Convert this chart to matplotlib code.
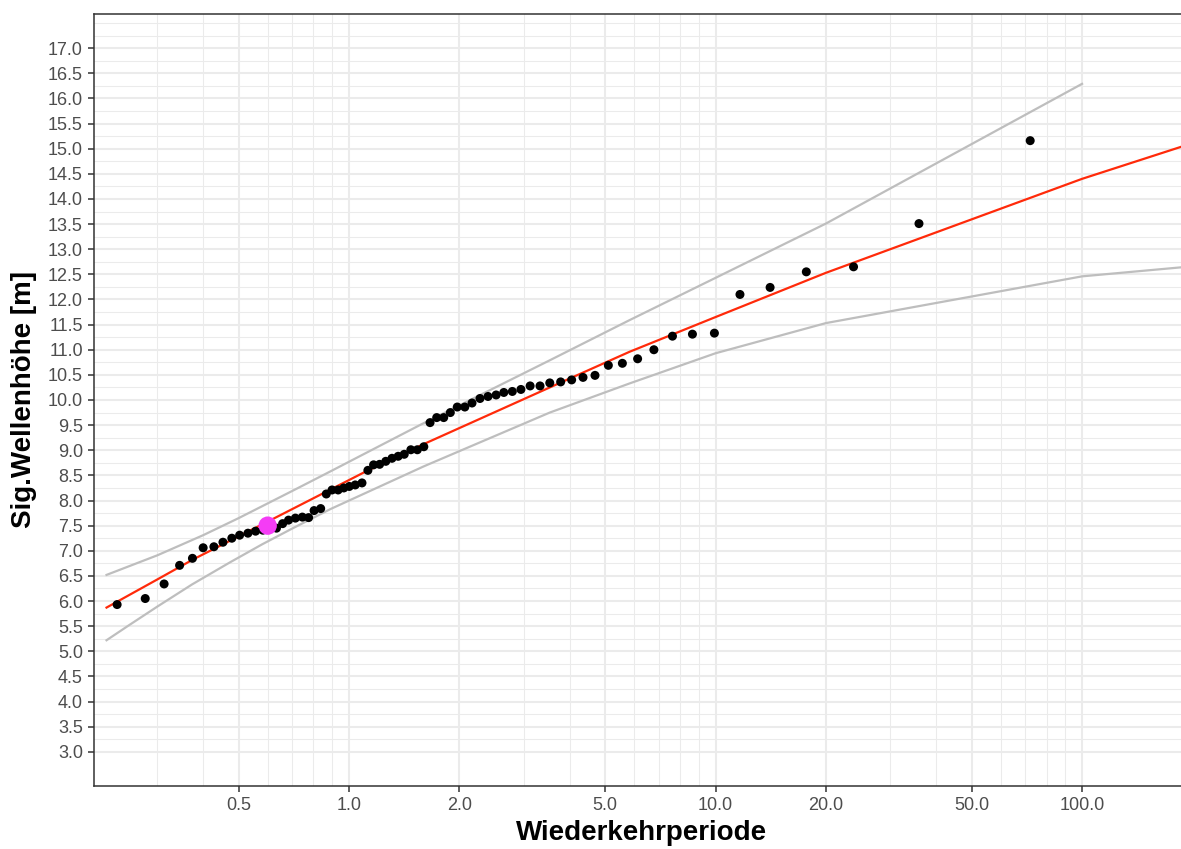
import matplotlib
matplotlib.use("Agg")
import matplotlib.pyplot as plt
import numpy as np

plt.rcParams['font.family'] = ['Liberation Sans', 'DejaVu Sans']

# beobachtete Werte (Wiederkehrperiode, Sig. Wellenhoehe)
obs_T = [0.233, 0.278, 0.313, 0.345, 0.374, 0.400, 0.428, 0.453, 0.479, 0.503,
         0.530, 0.556, 0.582, 0.634, 0.659, 0.684, 0.714, 0.746, 0.776, 0.803,
         0.837, 0.867, 0.899, 0.934, 0.968, 1.002, 1.040, 1.085, 1.126, 1.167,
         1.212, 1.260, 1.310, 1.362, 1.415, 1.475, 1.536, 1.600, 1.664, 1.735,
         1.813, 1.890, 1.974, 2.070, 2.166, 2.277, 2.395, 2.520, 2.645, 2.790,
         2.945, 3.120, 3.320, 3.530, 3.780, 4.050, 4.350, 4.690, 5.100, 5.570,
         6.130, 6.790, 7.630, 8.650, 9.930, 11.66, 14.09, 17.69, 23.80, 35.90,
         72.20]
obs_H = [5.93, 6.05, 6.34, 6.71, 6.85, 7.06, 7.08, 7.17, 7.25, 7.31,
         7.35, 7.39, 7.41, 7.45, 7.54, 7.61, 7.65, 7.67, 7.66, 7.80,
         7.84, 8.13, 8.21, 8.21, 8.25, 8.28, 8.31, 8.35, 8.60, 8.71,
         8.72, 8.78, 8.84, 8.88, 8.92, 9.01, 9.01, 9.07, 9.55, 9.65,
         9.65, 9.75, 9.86, 9.86, 9.94, 10.03, 10.07, 10.10, 10.15, 10.17,
         10.21, 10.28, 10.28, 10.34, 10.36, 10.40, 10.45, 10.49, 10.69, 10.73,
         10.82, 11.00, 11.27, 11.31, 11.33, 12.10, 12.24, 12.55, 12.65, 13.51,
         15.16]

# Anpassung (rot)
fit_T = [0.218, 0.3, 0.376, 0.6, 1.106, 1.63, 3.53, 5.83, 10, 20, 100, 200]
fit_H = [5.87, 6.43, 6.83, 7.58, 8.57, 9.15, 10.25, 10.96, 11.65, 12.53, 14.40, 15.11]

# Konfidenzband oben / unten (grau)
up_T = [0.218, 0.3, 0.4, 0.5, 0.7, 0.89, 1.56, 3.53, 5.83, 10, 20, 100]
up_H = [6.52, 6.91, 7.31, 7.65, 8.19, 8.58, 9.50, 10.79, 11.59, 12.43, 13.51, 16.29]
lo_T = [0.218, 0.25, 0.3, 0.373, 0.4735, 0.58, 0.699, 0.89, 1.6, 3.53, 5.83, 10, 20, 100, 200]
lo_H = [5.22, 5.51, 5.89, 6.33, 6.77, 7.13, 7.44, 7.83, 8.68, 9.75, 10.33, 10.93, 11.53, 12.46, 12.66]

# Bemessungspunkt
design_T = [0.6]
design_H = [7.5]

x_breaks = [0.5, 1, 2, 5, 10, 20, 50, 100]
x_labels = ['0.5', '1.0', '2.0', '5.0', '10.0', '20.0', '50.0', '100.0']
x_minor = [0.3, 0.4, 0.6, 0.7, 0.8, 0.9, 3, 4, 6, 7, 8, 9, 30, 40, 60, 70, 80, 90]
y_breaks = np.arange(3.0, 17.01, 0.5)
y_minor = list(np.arange(3.25, 17.3, 0.5)) + [17.5]

W, H = 1181, 849
fig = plt.figure(figsize=(W / 100, H / 100), dpi=100)
ax = fig.add_axes([94 / W, 1 - 786 / H, 1 - 94 / W, (786 - 14) / H])

ax.set_xscale('log')
ax.set_xlim(0.2015, 186.2)
ax.set_ylim(2.32, 17.68)

ax.set_xticks(x_breaks)
ax.set_xticklabels(x_labels)
ax.set_xticks(x_minor, minor=True)
ax.set_yticks(y_breaks)
ax.set_yticklabels(['%.1f' % v for v in y_breaks])
ax.set_yticks(y_minor, minor=True)

ax.grid(which='major', color='#EBEBEB', linewidth=1.5, zorder=0)
ax.grid(which='minor', color='#EBEBEB', linewidth=0.75, zorder=0)
ax.set_axisbelow(True)

ax.tick_params(which='major', direction='out', length=4.5, width=1.1,
               color='#333333', labelcolor='#4D4D4D', labelsize=13, pad=3.5)
ax.tick_params(which='minor', length=0)

for s in ['left', 'top', 'bottom']:
    ax.spines[s].set_color('#333333')
    ax.spines[s].set_linewidth(1.1)
ax.spines['right'].set_visible(False)

ax.plot(up_T, up_H, color='#BEBEBE', linewidth=1.6, zorder=2)
ax.plot(lo_T, lo_H, color='#BEBEBE', linewidth=1.6, zorder=2)
ax.plot(fit_T, fit_H, color='#FF2A0A', linewidth=1.6, zorder=3)
ax.scatter(obs_T, obs_H, s=42, color='black', edgecolors='none', zorder=4)
ax.scatter(design_T, design_H, s=175, color='#F43CF5', edgecolors='none', zorder=5)

ax.set_xlabel('Wiederkehrperiode', fontsize=20, fontweight='bold', color='black')
ax.xaxis.set_label_coords(0.504, -0.07)
ax.xaxis.label.set_verticalalignment('baseline')
ax.set_ylabel('Sig.Wellenhöhe [m]', fontsize=20, fontweight='bold', color='black')
ax.yaxis.set_label_coords(-0.052, 0.5)

fig.savefig('out.png', dpi=100)
